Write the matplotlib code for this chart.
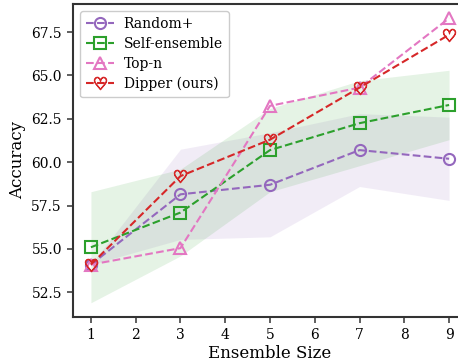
import matplotlib
matplotlib.use("Agg")
import matplotlib.pyplot as plt
import numpy as np

sizes = [1, 3, 5, 7, 9]

random_mean = [54.1, 58.15, 58.7, 60.7, 60.2]
random_std = [0.0, 2.6, 3.0, 2.1, 2.4]

self_mean = [55.1, 57.1, 60.7, 62.25, 63.3]
self_std = [3.2, 2.5, 2.4, 2.45, 2.0]

topn_acc = [54.1, 55.05, 63.25, 64.3, 68.3]
dipper_acc = [54.1, 59.2, 61.3, 64.3, 67.35]

plt.rcParams["font.family"] = "DejaVu Serif"

fig = plt.figure(figsize=(4.58, 3.63), dpi=100)
ax = fig.add_axes([73 / 458, 46 / 363, 394 / 458, 313 / 363])

x = np.array(sizes)
rm, rs = np.array(random_mean), np.array(random_std)
sm, ss = np.array(self_mean), np.array(self_std)

ax.fill_between(x, rm - rs, rm + rs, color="tab:purple", alpha=0.12, lw=0)
ax.fill_between(x, sm - ss, sm + ss, color="tab:green", alpha=0.12, lw=0)

common = dict(ls="--", lw=1.5, ms=8, mfc="none", mew=1.5)
ax.plot(x, rm, marker="o", color="tab:purple", label="Random+", **common)
ax.plot(x, sm, marker="s", color="tab:green", label="Self-ensemble", **common)
ax.plot(x, topn_acc, marker="^", color="tab:pink", label="Top-n", **common)
ax.plot(x, dipper_acc, marker=r"$\heartsuit$", color="tab:red",
        label="Dipper (ours)", ls="--", lw=1.5, ms=9, mew=0.8)

ax.set_xticks(range(1, 10))
ax.set_yticks([52.5, 55.0, 57.5, 60.0, 62.5, 65.0, 67.5])
ax.set_xlim(0.6, 9.4)
ax.set_xlabel("Ensemble Size", fontsize=12, labelpad=2)
ax.set_ylabel("Accuracy", fontsize=12)
ax.tick_params(labelsize=10, length=4.5, width=1.2, color="#444444")
for sp in ax.spines.values():
    sp.set_linewidth(1.5)
    sp.set_color("#333333")

ax.legend(loc="upper left", fontsize=10, handlelength=2.0, borderpad=0.45,
          labelspacing=0.42, handletextpad=0.7, framealpha=1.0, edgecolor="#cccccc")

fig.savefig("out.png", dpi=100)
